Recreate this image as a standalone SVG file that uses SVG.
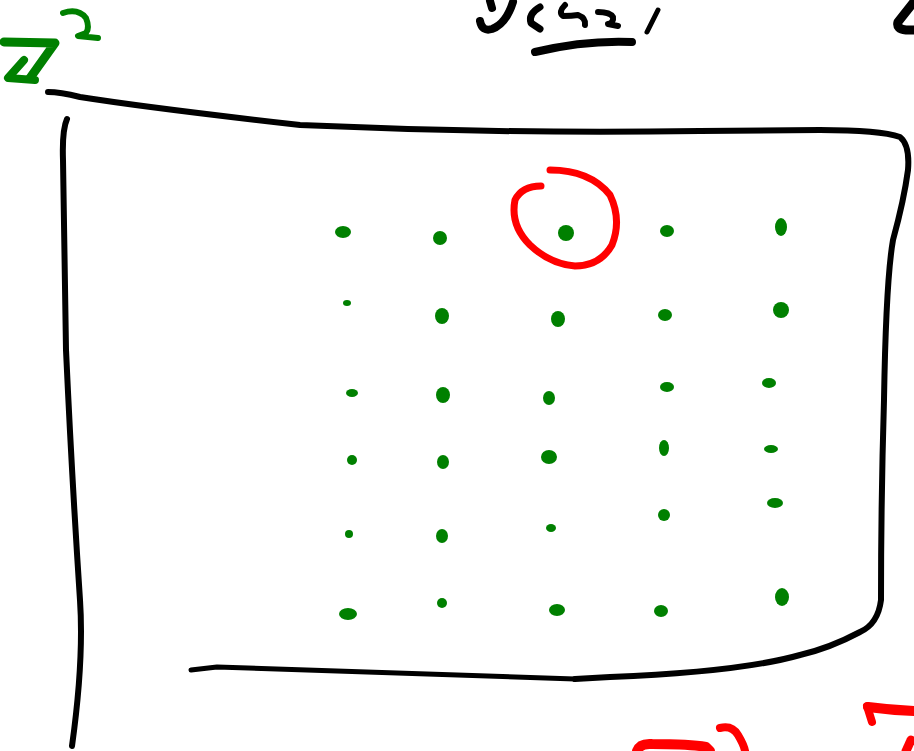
<svg xmlns="http://www.w3.org/2000/svg" width="914" height="751" viewBox="0 0 914 751">
<style>
.k{fill:none;stroke:#000;stroke-linecap:round;stroke-linejoin:round}
.g{fill:none;stroke:#008000;stroke-linecap:round;stroke-linejoin:round}
.r{fill:none;stroke:#ff0000;stroke-linecap:round;stroke-linejoin:round}
.d{fill:#008000}
</style>
<rect width="914" height="751" fill="#fff"/>
<g id="label-z2">
<path class="g" stroke-width="9" d="M4,42 L55,43 L30,78"/>
<path class="g" stroke-width="8" d="M24,60 L8,78 L35,80"/>
<path class="g" stroke-width="6" d="M63,13 Q78,8 86,18 Q90,28 86,33 L78,36 L98,38"/>
</g>
<g id="heading">
<path class="k" stroke-width="8" d="M490,1 L492,8"/>
<path class="k" stroke-width="8" d="M480,21 Q482,32 492,29 Q506,24 513,2"/>
<path class="k" stroke-width="7" d="M540,7 Q528,14 531,23 L540,29"/>
<path class="k" stroke-width="6" d="M565,5 Q558,12 563,16 Q572,16 578,15 Q586,18 585,25"/>
<path class="k" stroke-width="6" d="M598,12 Q610,12 613,17 Q614,23 608,24 L618,26"/>
<path class="k" stroke-width="5" d="M658,10 L647,32"/>
<path class="k" stroke-width="8" d="M535,52 Q585,40 632,42"/>
<path class="k" stroke-width="9" d="M913,3 L898,22 Q896,29 906,30 L914,30"/>
</g>
<g id="frame">
<path class="k" stroke-width="6" d="M48,92 Q60,92 80,97 Q150,108 300,125 Q500,134 700,131 L820,130 Q880,130 900,137 Q910,145 908,170 Q904,200 893,240 Q886,280 884,400 Q881,500 881,600 Q878,624 860,632 Q830,648 800,655 Q740,672 610,677 L575,679"/>
<path class="k" stroke-width="5" d="M191,670 L217,667 L575,679"/>
<path class="k" stroke-width="6" d="M67,119 Q62,130 63,160 L66,350 Q72,480 80,600 Q84,660 72,746"/>
</g>
<g id="dots">
<ellipse class="d" cx="343" cy="232" rx="8" ry="6"/>
<ellipse class="d" cx="440" cy="238" rx="7" ry="7"/>
<ellipse class="d" cx="566" cy="233" rx="8" ry="8"/>
<ellipse class="d" cx="667" cy="231" rx="7" ry="6"/>
<ellipse class="d" cx="781" cy="227" rx="6" ry="9"/>
<ellipse class="d" cx="347" cy="303" rx="4" ry="3"/>
<ellipse class="d" cx="442" cy="316" rx="7" ry="8"/>
<ellipse class="d" cx="558" cy="319" rx="7" ry="8"/>
<ellipse class="d" cx="665" cy="315" rx="7" ry="6"/>
<ellipse class="d" cx="781" cy="310" rx="8" ry="8"/>
<ellipse class="d" cx="352" cy="393" rx="6" ry="4"/>
<ellipse class="d" cx="443" cy="395" rx="7" ry="8"/>
<ellipse class="d" cx="549" cy="398" rx="6" ry="7"/>
<ellipse class="d" cx="667" cy="387" rx="7" ry="5"/>
<ellipse class="d" cx="769" cy="383" rx="7" ry="5"/>
<ellipse class="d" cx="352" cy="460" rx="5" ry="5"/>
<ellipse class="d" cx="443" cy="462" rx="6" ry="7"/>
<ellipse class="d" cx="549" cy="457" rx="8" ry="7"/>
<ellipse class="d" cx="664" cy="448" rx="5" ry="8"/>
<ellipse class="d" cx="771" cy="449" rx="7" ry="4"/>
<ellipse class="d" cx="349" cy="534" rx="4" ry="4"/>
<ellipse class="d" cx="442" cy="536" rx="6" ry="7"/>
<ellipse class="d" cx="551" cy="528" rx="5" ry="4"/>
<ellipse class="d" cx="664" cy="515" rx="6" ry="6"/>
<ellipse class="d" cx="775" cy="503" rx="8" ry="5"/>
<ellipse class="d" cx="348" cy="614" rx="9" ry="6"/>
<ellipse class="d" cx="442" cy="603" rx="5" ry="5"/>
<ellipse class="d" cx="557" cy="610" rx="8" ry="6"/>
<ellipse class="d" cx="661" cy="611" rx="7" ry="6"/>
<ellipse class="d" cx="782" cy="597" rx="7" ry="9"/>
</g>
<g id="highlight">
<path class="r" stroke-width="7" d="M550,170 Q590,170 610,195 Q622,220 612,245 Q600,266 575,266 Q550,264 530,245 Q510,225 515,200 Q522,186 541,186"/>
</g>
<g id="bottom-marks">
<path class="r" stroke-width="10" d="M637,751 Q640,743 652,744 Q690,744 706,747 L710,751"/>
<path class="r" stroke-width="8" d="M720,728 Q732,725 738,735 Q744,745 745,751"/>
<path class="r" stroke-width="8" d="M867,706 L872,722"/>
<path class="r" stroke-width="10" d="M868,707 Q890,710 914,711"/>
<path class="r" stroke-width="9" d="M911,740 L906,751"/>
</g>
</svg>
